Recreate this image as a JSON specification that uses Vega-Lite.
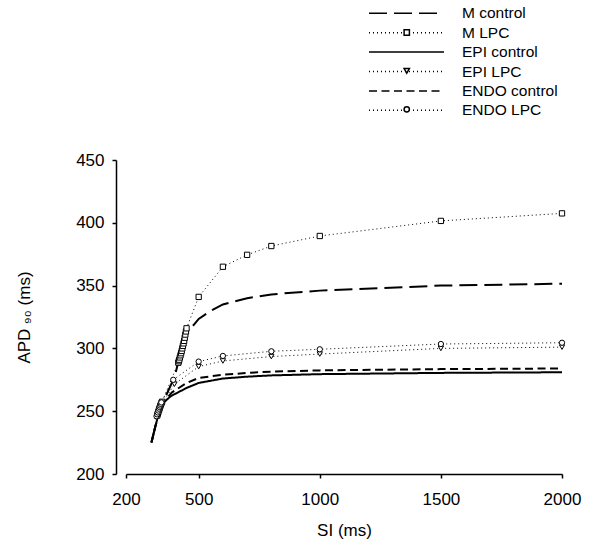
{
  "$schema": "https://vega.github.io/schema/vega-lite/v6.json",
  "autosize": "none",
  "padding": {"left": 126, "top": 160, "right": 30, "bottom": 71},
  "width": 436,
  "height": 314,
  "background": "white",
  "config": {
    "view": {"stroke": null},
    "font": "Liberation Sans",
    "axis": {"grid": false, "domainColor": "black", "tickColor": "black", "labelColor": "black", "titleColor": "black", "labelFont": "Liberation Sans", "titleFont": "Liberation Sans", "labelFontSize": 17, "titleFontSize": 17, "titleFontWeight": "normal", "tickSize": 4, "domainWidth": 1.5, "tickWidth": 1.5, "labelFlush": false, "labelOverlap": false},
    "legend": {"labelFont": "Liberation Sans", "labelFontSize": 15.5, "labelColor": "black", "padding": 0}
  },
  "data": {"values": [
    {"series": "M control", "SI": 305, "APD": 225},
    {"series": "M control", "SI": 320, "APD": 237},
    {"series": "M control", "SI": 335, "APD": 248},
    {"series": "M control", "SI": 350, "APD": 256},
    {"series": "M control", "SI": 400, "APD": 277},
    {"series": "M control", "SI": 416, "APD": 289},
    {"series": "M control", "SI": 425, "APD": 295},
    {"series": "M control", "SI": 435, "APD": 302},
    {"series": "M control", "SI": 450, "APD": 312},
    {"series": "M control", "SI": 485, "APD": 320},
    {"series": "M control", "SI": 500, "APD": 323.5},
    {"series": "M control", "SI": 550, "APD": 330},
    {"series": "M control", "SI": 600, "APD": 335},
    {"series": "M control", "SI": 700, "APD": 340},
    {"series": "M control", "SI": 800, "APD": 343},
    {"series": "M control", "SI": 1000, "APD": 346},
    {"series": "M control", "SI": 1250, "APD": 348},
    {"series": "M control", "SI": 1500, "APD": 350},
    {"series": "M control", "SI": 2000, "APD": 351.5},
    {"series": "M LPC", "SI": 329, "APD": 246.5},
    {"series": "M LPC", "SI": 331.5, "APD": 248},
    {"series": "M LPC", "SI": 334, "APD": 249.5},
    {"series": "M LPC", "SI": 336.5, "APD": 251},
    {"series": "M LPC", "SI": 339, "APD": 252.5},
    {"series": "M LPC", "SI": 341.5, "APD": 254},
    {"series": "M LPC", "SI": 344, "APD": 255.3},
    {"series": "M LPC", "SI": 346.5, "APD": 256.5},
    {"series": "M LPC", "SI": 349, "APD": 257.5},
    {"series": "M LPC", "SI": 416, "APD": 288.6},
    {"series": "M LPC", "SI": 418, "APD": 289.8},
    {"series": "M LPC", "SI": 420, "APD": 291},
    {"series": "M LPC", "SI": 422.5, "APD": 292.8},
    {"series": "M LPC", "SI": 425, "APD": 294.5},
    {"series": "M LPC", "SI": 427.5, "APD": 296.2},
    {"series": "M LPC", "SI": 430, "APD": 298},
    {"series": "M LPC", "SI": 432.5, "APD": 300},
    {"series": "M LPC", "SI": 435, "APD": 302},
    {"series": "M LPC", "SI": 437.5, "APD": 304},
    {"series": "M LPC", "SI": 440, "APD": 306},
    {"series": "M LPC", "SI": 442.5, "APD": 308.5},
    {"series": "M LPC", "SI": 445, "APD": 311},
    {"series": "M LPC", "SI": 447.5, "APD": 313.5},
    {"series": "M LPC", "SI": 450, "APD": 316},
    {"series": "M LPC", "SI": 500, "APD": 341},
    {"series": "M LPC", "SI": 600, "APD": 365},
    {"series": "M LPC", "SI": 700, "APD": 374.5},
    {"series": "M LPC", "SI": 800, "APD": 381.5},
    {"series": "M LPC", "SI": 1000, "APD": 389.5},
    {"series": "M LPC", "SI": 1500, "APD": 401.5},
    {"series": "M LPC", "SI": 2000, "APD": 407.5},
    {"series": "EPI control", "SI": 305, "APD": 225},
    {"series": "EPI control", "SI": 320, "APD": 237},
    {"series": "EPI control", "SI": 335, "APD": 248},
    {"series": "EPI control", "SI": 350, "APD": 256},
    {"series": "EPI control", "SI": 385, "APD": 262},
    {"series": "EPI control", "SI": 450, "APD": 268.5},
    {"series": "EPI control", "SI": 500, "APD": 272.5},
    {"series": "EPI control", "SI": 600, "APD": 276},
    {"series": "EPI control", "SI": 700, "APD": 277.5},
    {"series": "EPI control", "SI": 800, "APD": 278.5},
    {"series": "EPI control", "SI": 1000, "APD": 279.5},
    {"series": "EPI control", "SI": 1500, "APD": 280.5},
    {"series": "EPI control", "SI": 2000, "APD": 281},
    {"series": "EPI LPC", "SI": 327, "APD": 244.5},
    {"series": "EPI LPC", "SI": 329.5, "APD": 246},
    {"series": "EPI LPC", "SI": 332, "APD": 247.5},
    {"series": "EPI LPC", "SI": 334.5, "APD": 249},
    {"series": "EPI LPC", "SI": 337, "APD": 250.5},
    {"series": "EPI LPC", "SI": 339.5, "APD": 252},
    {"series": "EPI LPC", "SI": 342, "APD": 253.3},
    {"series": "EPI LPC", "SI": 344.5, "APD": 254.5},
    {"series": "EPI LPC", "SI": 347, "APD": 255.7},
    {"series": "EPI LPC", "SI": 400, "APD": 271.5},
    {"series": "EPI LPC", "SI": 500, "APD": 285.5},
    {"series": "EPI LPC", "SI": 600, "APD": 290},
    {"series": "EPI LPC", "SI": 800, "APD": 293.5},
    {"series": "EPI LPC", "SI": 1000, "APD": 295.5},
    {"series": "EPI LPC", "SI": 1500, "APD": 300},
    {"series": "EPI LPC", "SI": 2000, "APD": 301},
    {"series": "ENDO control", "SI": 305, "APD": 225},
    {"series": "ENDO control", "SI": 320, "APD": 237},
    {"series": "ENDO control", "SI": 335, "APD": 248},
    {"series": "ENDO control", "SI": 350, "APD": 256},
    {"series": "ENDO control", "SI": 390, "APD": 265},
    {"series": "ENDO control", "SI": 450, "APD": 272.5},
    {"series": "ENDO control", "SI": 500, "APD": 276.5},
    {"series": "ENDO control", "SI": 600, "APD": 279},
    {"series": "ENDO control", "SI": 700, "APD": 280.5},
    {"series": "ENDO control", "SI": 800, "APD": 281.5},
    {"series": "ENDO control", "SI": 1000, "APD": 282.5},
    {"series": "ENDO control", "SI": 1500, "APD": 283.5},
    {"series": "ENDO control", "SI": 2000, "APD": 284},
    {"series": "ENDO LPC", "SI": 326, "APD": 246},
    {"series": "ENDO LPC", "SI": 328.5, "APD": 247.5},
    {"series": "ENDO LPC", "SI": 331, "APD": 249},
    {"series": "ENDO LPC", "SI": 333.5, "APD": 250.5},
    {"series": "ENDO LPC", "SI": 336, "APD": 252},
    {"series": "ENDO LPC", "SI": 338.5, "APD": 253.3},
    {"series": "ENDO LPC", "SI": 341, "APD": 254.5},
    {"series": "ENDO LPC", "SI": 343.5, "APD": 255.8},
    {"series": "ENDO LPC", "SI": 346, "APD": 257},
    {"series": "ENDO LPC", "SI": 395, "APD": 275},
    {"series": "ENDO LPC", "SI": 500, "APD": 289.5},
    {"series": "ENDO LPC", "SI": 600, "APD": 294},
    {"series": "ENDO LPC", "SI": 800, "APD": 297.7},
    {"series": "ENDO LPC", "SI": 1000, "APD": 299.3},
    {"series": "ENDO LPC", "SI": 1500, "APD": 303.5},
    {"series": "ENDO LPC", "SI": 2000, "APD": 304.5}
  ]},
  "layer": [
    {
      "transform": [{"filter": "indexof(datum.series, 'LPC') < 0"}],
      "mark": {"type": "line", "color": "black", "strokeWidth": 2},
      "encoding": {
        "x": {"field": "SI", "type": "quantitative", "scale": {"domain": [200, 2000], "nice": false, "zero": false},
          "axis": {"values": [200, 500, 1000, 1500, 2000], "format": "d", "title": "SI (ms)", "labelPadding": 13, "titlePadding": 15}},
        "y": {"field": "APD", "type": "quantitative", "scale": {"domain": [200, 450], "nice": false, "zero": false},
          "axis": {"values": [200, 250, 300, 350, 400, 450], "format": "d", "title": "APD ₉₀ (ms)", "offset": 10, "labelPadding": 8, "titlePadding": 42}},
        "strokeDash": {"field": "series", "type": "nominal",
          "scale": {"domain": ["M control", "M LPC", "EPI control", "EPI LPC", "ENDO control", "ENDO LPC"],
                    "range": [[18, 7], [1, 3], [1, 0], [1, 3], [8, 4.5], [1, 3]]},
          "legend": {"orient": "none", "legendX": 242, "legendY": -154.7, "title": null, "symbolType": "stroke", "symbolSize": 5625, "symbolStrokeColor": "black", "symbolStrokeWidth": 1.5, "labelOffset": 17, "clipHeight": 16, "rowPadding": 2.4}
        }
      }
    },
    {
      "transform": [{"filter": "indexof(datum.series, 'LPC') >= 0"}],
      "mark": {"type": "line", "color": "black", "strokeWidth": 1},
      "encoding": {
        "x": {"field": "SI", "type": "quantitative"},
        "y": {"field": "APD", "type": "quantitative"},
        "strokeDash": {"field": "series", "type": "nominal"}
      }
    },
    {
      "mark": {"type": "point", "filled": true, "fill": "white", "stroke": "black", "strokeWidth": 1, "size": 28, "opacity": 1},
      "encoding": {
        "x": {"field": "SI", "type": "quantitative"},
        "y": {"field": "APD", "type": "quantitative"},
        "shape": {"field": "series", "type": "nominal",
          "sort": ["M control", "M LPC", "EPI control", "EPI LPC", "ENDO control", "ENDO LPC"],
          "scale": {"range": ["M0,0", "square", "M0,0", "triangle-down", "M0,0", "circle"]},
          "legend": {"orient": "none", "legendX": 273, "legendY": -154.7, "title": null, "symbolSize": 28, "labelExpr": "''", "clipHeight": 16, "rowPadding": 2.2,
            "encode": {"symbols": {"update": {"fill": {"value": "white"}, "stroke": {"value": "black"}, "strokeWidth": {"value": 1}, "opacity": {"value": 1}}}}}
        }
      }
    }
  ]
}
